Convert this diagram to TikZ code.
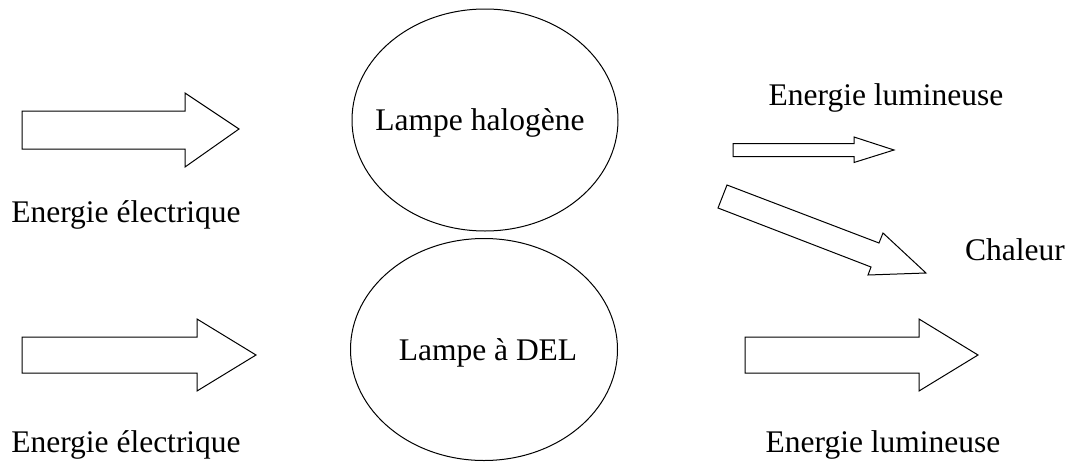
\documentclass[tikz,border=0pt]{standalone}
\usepackage{fontspec}
\setmainfont{Liberation Serif}
\usetikzlibrary{shapes.geometric}
\begin{document}
\begin{tikzpicture}[x=1pt,y=-1pt,
  fatarrow/.style={draw=black,line width=1pt,fill=white,line join=miter},
  lampe/.style={draw=black,line width=1pt,ellipse,inner sep=0pt},
  lbl/.style={anchor=base,inner sep=0pt,font=\fontsize{31.5}{36}\selectfont}]
\useasboundingbox (0,0) rectangle (1069,461);
% lamps
\node[lampe,minimum width=266pt,minimum height=222pt] (halo) at (485,120) {};
\node[lampe,minimum width=267pt,minimum height=222pt] (del) at (484,349.5) {};
\node[lbl] (thalo) at (480,130) {Lampe halogène};
\node[lbl] (tdel) at (488,360) {Lampe à DEL};
% input arrows
\draw[fatarrow] (22,111) -- (185,111) -- (185,93) -- (239,129) -- (185,167) -- (185,149) -- (22,149) -- cycle;
\draw[fatarrow] (22,337) -- (197,337) -- (197,319) -- (256,355) -- (197,391) -- (197,373) -- (22,373) -- cycle;
\node[lbl] (in1) at (126,222) {Energie électrique};
\node[lbl] (in2) at (126,452) {Energie électrique};
% outputs halogen
\draw[fatarrow] (733,143.5) -- (854,143.5) -- (854,137) -- (894,150) -- (854,162.5) -- (854,156.5) -- (733,156.5) -- cycle;
\draw[fatarrow] (727,185) -- (879,243) -- (883,233) -- (926,273) -- (868,275) -- (871,267) -- (718,208) -- cycle;
\node[lbl] (out1) at (886,105) {Energie lumineuse};
\node[lbl] (heat) at (1015,260) {Chaleur};
% output DEL
\draw[fatarrow] (745,337) -- (919,337) -- (919,319) -- (978,355) -- (919,391) -- (919,373) -- (745,373) -- cycle;
\node[lbl] (out2) at (883,452) {Energie lumineuse};
\end{tikzpicture}
\end{document}
